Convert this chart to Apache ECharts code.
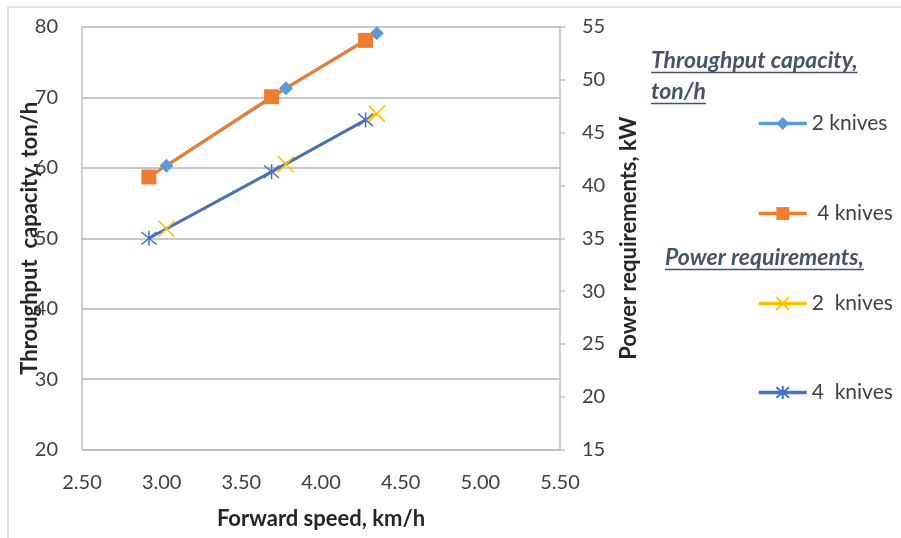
<!DOCTYPE html>
<html>
<head>
<meta charset="utf-8">
<script src="https://cdn.jsdelivr.net/npm/echarts@6/dist/echarts.min.js"></script>
<style>
  html, body { margin: 0; padding: 0; background: #ffffff; }
  #chart { width: 901px; height: 538px; }
</style>
</head>
<body>
<div id="chart"></div>
<script>
// Forward speed (km/h) for each knife configuration
const speed2Knives = [3.03, 3.78, 4.35];
const speed4Knives = [2.92, 3.69, 4.28];

// Throughput capacity, ton/h (left axis)
const throughput2Knives = [60.3, 71.3, 79.1];
const throughput4Knives = [58.7, 70.1, 78.1];

// Power requirements, kW (right axis)
const power2Knives = [35.9, 42.0, 46.8];
const power4Knives = [35.0, 41.3, 46.2];

// Axis ticks
const xTicks = { min: 2.5, max: 5.5, step: 0.5 };
const leftTicks = { min: 20, max: 80, step: 10 };
const rightTicks = { min: 15, max: 55, step: 5 };

const seriesNames = ['2 knives', ' 4 knives', '2  knives', '4  knives'];
const groupTitles = ['Throughput capacity,', 'ton/h', 'Power requirements,'];

const pairs = (xs, ys) => xs.map((x, i) => [x, ys[i]]);

const FONT = 'Lato, "Open Sans", sans-serif';
const TEXT = '#404040';
const AXIS = '#bfbfbf';
const TITLE_COLOR = '#44546a';

const crossMark = 'path://M-5,-5L5,5M-5,5L5,-5';
const starMark = 'path://M0,-6L0,6M-5,-5L5,5M-5,5L5,-5';

function measure(text, font) {
  const ctx = document.createElement('canvas').getContext('2d');
  ctx.font = font;
  return ctx.measureText(text).width;
}

const titleFont = 'italic bold 23px ' + FONT;
const titles = [
  { text: groupTitles[0], x: 651, y: 61 },
  { text: groupTitles[1], x: 651, y: 92 },
  { text: groupTitles[2], x: 665, y: 258 }
];
const graphics = [
  {
    type: 'polyline',
    shape: { points: [[8, 540], [8, 7], [905, 7]] },
    style: { stroke: '#d9d9d9', lineWidth: 1.5, fill: null },
    silent: true
  }
];
titles.forEach(t => {
  graphics.push({
    type: 'text', x: t.x, y: t.y,
    style: { text: t.text, font: titleFont, fill: TITLE_COLOR, textVerticalAlign: 'middle' },
    silent: true
  });
  const w = measure(t.text, titleFont);
  graphics.push({
    type: 'line',
    shape: { x1: t.x, y1: t.y + 11.5, x2: t.x + w, y2: t.y + 11.5 },
    style: { stroke: TITLE_COLOR, lineWidth: 1.3 },
    silent: true
  });
});

const legendRows = [123, 213, 303, 392];
const legends = seriesNames.map((name, i) => ({
  data: [name],
  left: 757,
  top: legendRows[i] - 10,
  padding: 0,
  itemWidth: 48,
  itemHeight: 16,
  selectedMode: false,
  lineStyle: { width: 3.5 },
  textStyle: { fontFamily: FONT, fontSize: 21, color: TEXT }
}));

const nameStyle = { fontFamily: FONT, fontSize: 22, fontWeight: 'bold', color: '#262626' };

const chart = echarts.init(document.getElementById('chart'), null, { renderer: 'canvas' });

chart.setOption({
  animation: false,
  backgroundColor: '#ffffff',
  grid: { left: 82, right: 341, top: 27, bottom: 88.5, containLabel: false },
  graphic: graphics,
  legend: legends,
  xAxis: {
    type: 'value',
    min: xTicks.min, max: xTicks.max, interval: xTicks.step,
    name: 'Forward speed, km/h',
    nameLocation: 'middle',
    nameGap: 58,
    nameMoveOverlap: false,
    nameTextStyle: nameStyle,
    axisLine: { show: true, lineStyle: { color: AXIS, width: 1.5 } },
    axisTick: { show: false },
    splitLine: { show: false },
    axisLabel: {
      margin: 23, fontFamily: FONT, fontSize: 20, color: TEXT,
      formatter: v => v.toFixed(2)
    }
  },
  yAxis: [
    {
      type: 'value',
      position: 'left',
      min: leftTicks.min, max: leftTicks.max, interval: leftTicks.step,
      name: 'Throughput  capacity, ton/h',
      nameLocation: 'middle',
      nameGap: 41,
      nameMoveOverlap: false,
      nameTextStyle: nameStyle,
      axisLine: { show: true, lineStyle: { color: AXIS, width: 1.5 } },
      axisTick: { show: false },
      splitLine: { show: true, lineStyle: { color: '#c8c8c8', width: 2 } },
      axisLabel: { margin: 24, fontFamily: FONT, fontSize: 20, color: TEXT }
    },
    {
      type: 'value',
      position: 'right',
      min: rightTicks.min, max: rightTicks.max, interval: rightTicks.step,
      name: 'Power requirements, kW',
      nameLocation: 'middle',
      nameGap: 58,
      nameMoveOverlap: false,
      nameTextStyle: nameStyle,
      axisLine: { show: true, lineStyle: { color: AXIS, width: 1.5 } },
      axisTick: { show: true, length: 5, inside: false, lineStyle: { color: AXIS, width: 1.5 } },
      splitLine: { show: false },
      axisLabel: { margin: 22, fontFamily: FONT, fontSize: 20, color: TEXT }
    }
  ],
  series: [
    {
      name: seriesNames[0], type: 'line', yAxisIndex: 0,
      data: pairs(speed2Knives, throughput2Knives),
      symbol: 'diamond', symbolSize: 14,
      lineStyle: { color: '#5b9bd5', width: 3 },
      itemStyle: { color: '#5b9bd5' }
    },
    {
      name: seriesNames[1], type: 'line', yAxisIndex: 0,
      data: pairs(speed4Knives, throughput4Knives),
      symbol: 'rect', symbolSize: 15,
      lineStyle: { color: '#ed7d31', width: 3 },
      itemStyle: { color: '#ed7d31' }
    },
    {
      name: seriesNames[2], type: 'line', yAxisIndex: 1,
      data: pairs(speed2Knives, power2Knives),
      symbol: crossMark, symbolSize: 16,
      lineStyle: { color: '#ffc000', width: 3 },
      itemStyle: { color: '#ffc000', borderColor: '#ffc000', borderWidth: 1.5 }
    },
    {
      name: seriesNames[3], type: 'line', yAxisIndex: 1,
      data: pairs(speed4Knives, power4Knives),
      symbol: starMark, symbolSize: 15,
      lineStyle: { color: '#4472c4', width: 3 },
      itemStyle: { color: '#4472c4', borderColor: '#4472c4', borderWidth: 1.5 }
    }
  ]
});
</script>
</body>
</html>
